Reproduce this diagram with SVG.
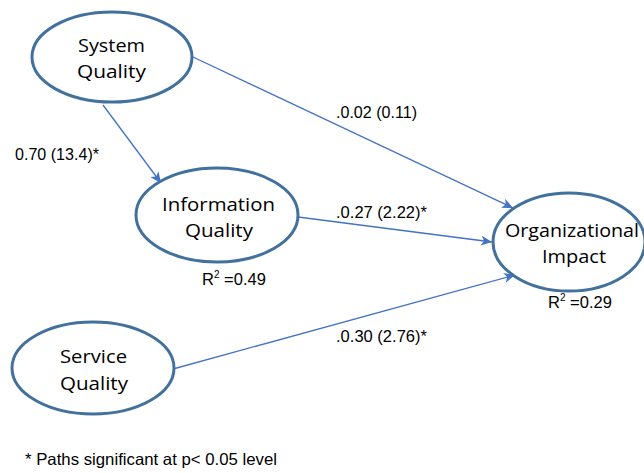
<svg xmlns="http://www.w3.org/2000/svg" width="644" height="473" viewBox="0 0 644 473">
<style>
.node ellipse{fill:#fff;stroke:#41719C;stroke-width:3}
.nt{font-family:"Open Sans","Liberation Sans",sans-serif;font-size:18px;fill:#000;text-anchor:start}
.lb{font-family:"Liberation Sans",Arial,sans-serif;font-size:16.5px;fill:#000}
.sup{font-size:10px}
.conn line{stroke:#4472C4;stroke-width:1.3;fill:none}
</style>
<defs>
<marker id="ah" markerUnits="userSpaceOnUse" markerWidth="12" markerHeight="10" refX="11" refY="5" orient="auto">
<path d="M0,0 L11,5 L0,10 L3,5 Z" fill="#4472C4"/>
</marker>
</defs>
<rect width="644" height="473" fill="#fff"/>
<g id="connectors" class="conn">
<line x1="103" y1="105" x2="161" y2="183" marker-end="url(#ah)"/>
<line x1="193" y1="57" x2="513" y2="208" marker-end="url(#ah)"/>
<line x1="298" y1="217" x2="492" y2="242" marker-end="url(#ah)"/>
<line x1="173" y1="369" x2="515" y2="275" marker-end="url(#ah)"/>
</g>
<g id="system-quality" class="node">
<ellipse cx="112" cy="57" rx="80" ry="45"/>
<text class="nt" x="78" y="52" textLength="67" lengthAdjust="spacingAndGlyphs">System</text>
<text class="nt" x="77" y="78" textLength="69" lengthAdjust="spacingAndGlyphs">Quality</text>
</g>
<g id="information-quality" class="node">
<ellipse cx="217" cy="215" rx="81" ry="47"/>
<text class="nt" x="162" y="211" textLength="113" lengthAdjust="spacingAndGlyphs">Information</text>
<text class="nt" x="185" y="237" textLength="68" lengthAdjust="spacingAndGlyphs">Quality</text>
</g>
<g id="organizational-impact" class="node">
<ellipse cx="569" cy="242" rx="76" ry="49"/>
<text class="nt" x="505" y="237" textLength="134" lengthAdjust="spacingAndGlyphs">Organizational</text>
<text class="nt" x="542" y="263" textLength="64" lengthAdjust="spacingAndGlyphs">Impact</text>
</g>
<g id="service-quality" class="node">
<ellipse cx="93" cy="368" rx="81" ry="46"/>
<text class="nt" x="60" y="363" textLength="67" lengthAdjust="spacingAndGlyphs">Service</text>
<text class="nt" x="60" y="390" textLength="68" lengthAdjust="spacingAndGlyphs">Quality</text>
</g>
<g id="labels">
<text class="lb" x="15" y="160" textLength="84" lengthAdjust="spacingAndGlyphs">0.70 (13.4)*</text>
<text class="lb" x="336" y="118" textLength="81" lengthAdjust="spacingAndGlyphs">.0.02 (0.11)</text>
<text class="lb" x="336" y="218" textLength="91" lengthAdjust="spacingAndGlyphs">.0.27 (2.22)*</text>
<text class="lb" x="336" y="342" textLength="91" lengthAdjust="spacingAndGlyphs">.0.30 (2.76)*</text>
<text class="lb" x="202" y="285">R<tspan class="sup" dy="-7">2</tspan><tspan dy="7"> =0.49</tspan></text>
<text class="lb" x="548" y="308">R<tspan class="sup" dy="-7">2</tspan><tspan dy="7"> =0.29</tspan></text>
<text class="lb" x="25" y="465" textLength="252" lengthAdjust="spacingAndGlyphs">* Paths significant at p&lt; 0.05 level</text>
</g>
</svg>
